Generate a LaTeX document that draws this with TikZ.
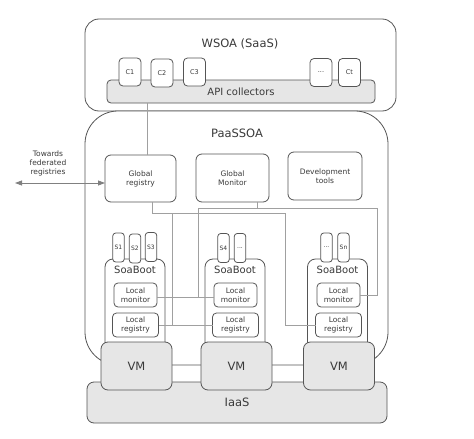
\documentclass[tikz,border=0pt]{standalone}
\usepackage{fontspec}
\setmainfont{DejaVu Sans}
\usetikzlibrary{arrows.meta, calc}
\definecolor{linegray}{HTML}{555555}
\definecolor{wiregray}{HTML}{A0A0A0}
\definecolor{fillgray}{HTML}{E6E6E6}
\definecolor{textgray}{HTML}{3A3A3A}

\begin{document}
\begin{tikzpicture}[x=1pt, y=-1pt,
    every node/.style={text=textgray, inner sep=0pt, outer sep=0pt, align=center},
    layer/.style={draw=linegray, line width=0.8pt, fill=white, font=\fontsize{11.5}{13}\selectfont},
    band/.style={layer, fill=fillgray, rounded corners=7pt},
    part/.style={draw=linegray, line width=0.8pt, fill=white, rounded corners=6pt, font=\fontsize{7.5}{9}\selectfont},
    tab/.style={draw=linegray, line width=0.8pt, fill=white, rounded corners=3pt, minimum width=11.5pt, minimum height=29pt, font=\fontsize{6}{7}\selectfont},
    ctab/.style={draw=linegray, line width=0.8pt, fill=white, rounded corners=4pt, minimum width=22pt, minimum height=28pt, font=\fontsize{6.5}{8}\selectfont},
    wire/.style={draw=wiregray, line width=0.7pt}]
    \useasboundingbox (0,0) rectangle (474,439);
    % SaaS layer
    \node[layer, rounded corners=14pt, minimum width=311pt, minimum height=92pt] (wsoa) at (240.5,65) {};
    \node[font=\fontsize{11.5}{13}\selectfont] (wsoatitle) at (240,44) {WSOA (SaaS)};
    \node[band, rounded corners=4pt, minimum width=268pt, minimum height=23pt, font=\fontsize{10}{12}\selectfont] (api) at (241,91.5) {API collectors};
    \node[ctab] (c1) at (130,72) {C1};
    \node[ctab] (c2) at (162,73) {C2};
    \node[ctab] (c3) at (194.5,72) {C3};
    \node[ctab] (cdots) at (321,72.5) {...};
    \node[ctab] (ct) at (349.5,72.5) {Ct};
    % PaaS layer
    \node[layer, rounded corners=33pt, minimum width=303pt, minimum height=254pt] (paas) at (236.5,238) {};
    \node[font=\fontsize{11.5}{13}\selectfont] (paastitle) at (237,133) {PaaSSOA};
    \node[part, minimum width=71pt, minimum height=47pt] (greg) at (140.5,178.5) {Global\\registry};
    \node[part, minimum width=73pt, minimum height=48pt] (gmon) at (232.5,178) {Global\\Monitor};
    \node[part, minimum width=74pt, minimum height=48pt] (dev) at (325,176) {Development\\tools};
    % Federated registries
    \node[font=\fontsize{7.5}{9}\selectfont] (fed) at (48,163) {Towards\\federated\\registries};
    \coordinate (fedend) at (15,183);
    \draw[wiregray!80!black, line width=0.8pt, {Triangle[width=5pt,length=7pt]}-{Triangle[width=5pt,length=7pt]}] (fedend) -- (fedend -| greg.west);
    % SoaBoot containers
    \foreach \name/\x in {sb1/135, sb2/235, sb3/337.5}
    {
        \node[part, rounded corners=8pt, minimum width=60pt, minimum height=102pt] (\name) at (\x,310) {};
        \node[font=\fontsize{10}{12}\selectfont] (\name title) at (\x,269.5) {SoaBoot};
    }
    % Services
    \node[tab] (s1) at (118.5,247.5) {S1};
    \node[tab] (s2) at (135,248.5) {S2};
    \node[tab] (s3) at (151,247) {S3};
    \node[tab] (s4) at (223.5,248) {S4};
    \node[tab] (sdotsa) at (240,248) {...};
    \node[tab] (sdotsb) at (326.5,247.5) {...};
    \node[tab] (sn) at (343.5,247.5) {Sn};
    % Local monitors and registries
    \foreach \i/\x in {1/135.5, 2/235.5, 3/338.5}
    {
        \node[part, rounded corners=4pt, minimum width=43pt, minimum height=24pt] (lm\i) at (\x,295) {Local\\monitor};
        \node[part, rounded corners=4pt, minimum width=46pt, minimum height=24pt] (lr\i) at (\x,325) {Local\\registry};
    }
    % Wires
    \draw[wire] ([xshift=6.5pt]greg.north) -- ([xshift=6.5pt]greg.north |- api.south);
    \coordinate (rbus) at (172,213);
    \coordinate (rturn) at (285,213);
    \draw[wire] ([xshift=11.5pt]greg.south) |- (rturn) |- (lr3.west);
    \draw[wire] (lr1.east) -- (lr2.west);
    \draw[wire] (rbus) -- (rbus |- lr1.east);
    \coordinate (mbus) at (198,208);
    \coordinate (mturn) at (377,208);
    \coordinate (mline) at ([yshift=-2pt]lm1.east);
    \draw[wire] ([xshift=24.5pt]gmon.south) -- ([xshift=24.5pt]gmon.south |- mbus);
    \draw[wire] (mbus) -- (mturn) |- (lm3.east);
    \draw[wire] (mline) -- (mline -| lm2.west);
    \draw[wire] (mbus) -- (mbus |- mline);
    % IaaS layer and VMs
    \node[band, minimum width=300pt, minimum height=41pt] (iaas) at (237,402.5) {IaaS};
    \foreach \i/\x in {1/136.5, 2/236.5, 3/339}
    {
        \node[band, minimum width=71pt, minimum height=48pt] (vm\i) at (\x,366) {VM};
    }
\end{tikzpicture}
\end{document}
